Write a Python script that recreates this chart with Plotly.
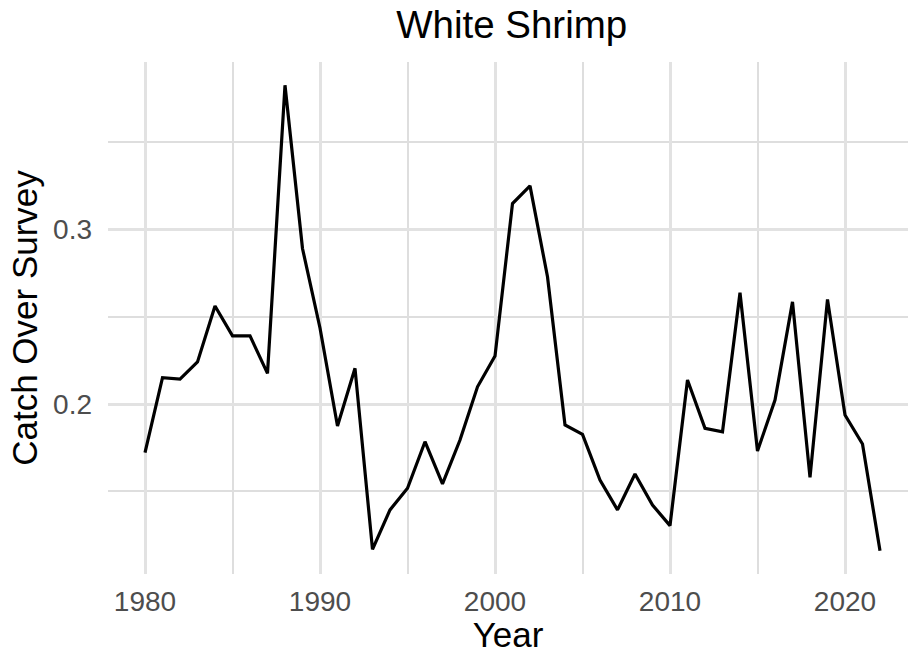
import plotly.graph_objects as go

years = list(range(1980, 2023))
catch_over_survey = [
    0.1721, 0.2151, 0.2143, 0.2242, 0.2562, 0.2391, 0.2391, 0.2176, 0.3828, 0.2892,
    0.2436, 0.1874, 0.2205, 0.1167, 0.1393, 0.1517, 0.1784, 0.1542, 0.1794, 0.2099,
    0.2275, 0.3150, 0.3251, 0.2730, 0.1880, 0.1826, 0.1564, 0.1393, 0.1599, 0.1421,
    0.1303, 0.2138, 0.1861, 0.1841, 0.2638, 0.1731, 0.2023, 0.2586, 0.1580, 0.2600,
    0.1937, 0.1771, 0.1159,
]
x_ticks = [1980, 1990, 2000, 2010, 2020]
y_ticks = [0.2, 0.3]
y_tick_text = ["0.2", "0.3"]

FONT = "Liberation Sans, Arial, sans-serif"
GRID = "#e2e2e2"

fig = go.Figure()
fig.add_trace(go.Scatter(
    x=years, y=catch_over_survey, mode="lines",
    line=dict(color="black", width=3.2),
    showlegend=False,
))

fig.update_layout(
    width=908, height=654,
    margin=dict(l=108, r=0, t=62, b=80, autoexpand=False),
    paper_bgcolor="white", plot_bgcolor="white",
    font=dict(family=FONT, color="black"),
    title=dict(text="White Shrimp", font=dict(size=38.5, color="black", family=FONT),
               xref="container", yref="container",
               x=511.7 / 908, xanchor="center",
               y=1 - 25 / 654, yanchor="middle"),
)

fig.update_xaxes(
    range=[1977.886, 2023.6],
    tickmode="array", tickvals=x_ticks, ticktext=[str(v) for v in x_ticks],
    ticks="", showline=False, zeroline=False,
    showgrid=True, gridcolor=GRID, gridwidth=2.7,
    minor=dict(tickmode="linear", tick0=1975, dtick=5, showgrid=True,
               gridcolor="#dedede", gridwidth=1.6),
    tickfont=dict(size=28, color="#4d4d4d", family=FONT),
    ticklabelstandoff=8,
    title=dict(text="Year", font=dict(size=35, color="black", family=FONT), standoff=4),
)

fig.update_yaxes(
    range=[0.10255, 0.39615],
    tickmode="array", tickvals=y_ticks, ticktext=y_tick_text,
    ticks="", showline=False, zeroline=False,
    showgrid=True, gridcolor=GRID, gridwidth=2.7,
    minor=dict(tickmode="linear", tick0=0.05, dtick=0.05, showgrid=True,
               gridcolor="#dedede", gridwidth=1.6),
    tickfont=dict(size=28, color="#4d4d4d", family=FONT),
    ticklabelstandoff=15,
    title=dict(text="Catch Over Survey", font=dict(size=35, color="black", family=FONT), standoff=4),
)

fig.write_html("out.html", config={"displayModeBar": False},
               post_script="document.body.style.margin='0';document.body.style.padding='0';")
